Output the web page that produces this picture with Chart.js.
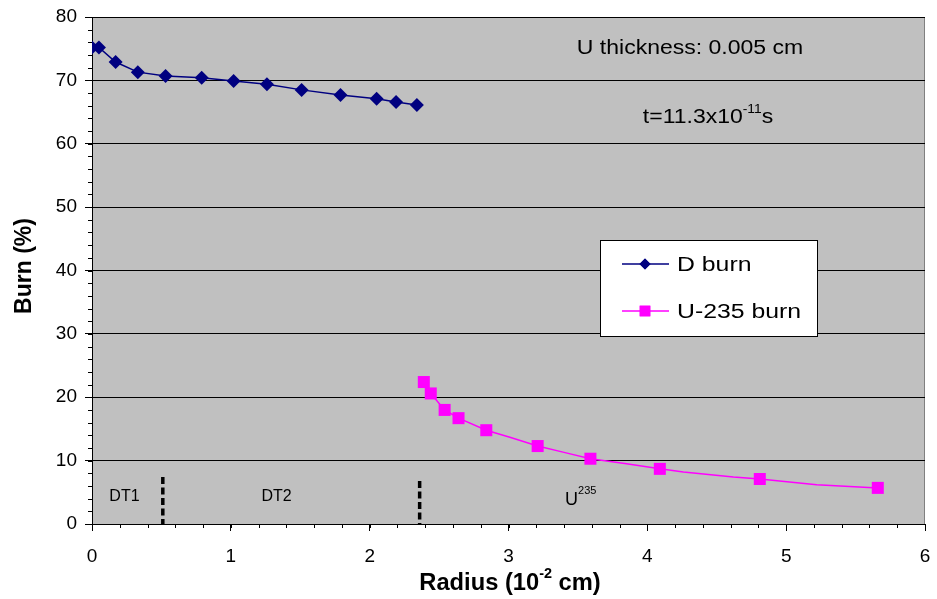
<!DOCTYPE html>
<html>
<head>
<meta charset="utf-8">
<script src="https://cdn.jsdelivr.net/npm/chart.js@4/dist/chart.umd.min.js"></script>
<style>
  html, body { margin: 0; padding: 0; background: #fff; }
  #wrap { width: 937px; height: 599px; }
</style>
</head>
<body>
<div id="wrap"><canvas id="burnChart" width="937" height="599"></canvas></div>
<script>
// ---------------------------------------------------------------------------
// Data
// ---------------------------------------------------------------------------
const dRadius = [0.0, 0.05, 0.17, 0.33, 0.53, 0.79, 1.02, 1.26, 1.51, 1.79, 2.05, 2.19, 2.34];
const dBurn   = [75.2, 75.2, 72.9, 71.3, 70.7, 70.4, 69.9, 69.4, 68.5, 67.7, 67.1, 66.6, 66.1];

// U-235 curve: marker points plus the unmarked bends of its line
const uRadius = [2.39, 2.44, 2.54, 2.64, 2.84, 3.01, 3.21, 3.40, 3.59, 3.85, 4.09, 4.26, 4.62, 4.81, 5.22, 5.66];
const uBurn   = [22.4, 20.6, 18.0, 16.7, 14.8, 13.7, 12.3, 11.3, 10.3, 9.5, 8.7, 8.2, 7.4, 7.1, 6.2, 5.7];
const uMarked = [1, 1, 1, 1, 1, 0, 1, 0, 1, 0, 1, 0, 0, 1, 0, 1];

// region boundaries (dashed markers) and labels
const boundaryX   = [0.51, 2.36];
const boundaryTop = [7.4, 6.8];
const regionLabels = [
  { text: "DT1", x: 0.234, y: 4.3 },
  { text: "DT2", x: 1.33, y: 4.3 },
];

const xTicks = [0, 1, 2, 3, 4, 5, 6];
const yTicks = [0, 10, 20, 30, 40, 50, 60, 70, 80];

const FONT = '"Liberation Sans", Arial, sans-serif';

// ---------------------------------------------------------------------------
// Helpers
// ---------------------------------------------------------------------------
function toPoints(xs, ys) {
  return xs.map((x, i) => ({ x: x, y: ys[i] }));
}

// text stretched horizontally by sx, left aligned at x
function stretchText(ctx, text, x, y, sx) {
  ctx.save();
  ctx.translate(x, y);
  ctx.scale(sx, 1);
  ctx.fillText(text, 0, 0);
  ctx.restore();
}

// draws "base" + superscript + "tail" centred at cx
function drawSuper(ctx, cx, cy, base, sup, tail, size, weight, sx, supRatio, supRise) {
  sx = sx || 1;
  const bigFont = `${weight} ${size}px ${FONT}`;
  const smallFont = `${weight} ${Math.round(size * (supRatio || 0.62))}px ${FONT}`;
  ctx.font = bigFont;
  const w1 = ctx.measureText(base).width * sx;
  const w3 = ctx.measureText(tail).width * sx;
  ctx.font = smallFont;
  const w2 = ctx.measureText(sup).width * sx;
  let x = cx - (w1 + w2 + w3) / 2;
  ctx.textAlign = "left";
  ctx.textBaseline = "middle";
  ctx.font = bigFont;
  stretchText(ctx, base, x, cy, sx);
  x += w1;
  ctx.font = smallFont;
  stretchText(ctx, sup, x, cy - size * (supRise || 0.38), sx);
  x += w2;
  ctx.font = bigFont;
  stretchText(ctx, tail, x, cy, sx);
}

// ---------------------------------------------------------------------------
// Plugins: plot background, minor ticks, annotations, legend, axis titles
// ---------------------------------------------------------------------------
const plotBackground = {
  id: "plotBackground",
  beforeDraw(chart) {
    const { ctx, chartArea: a } = chart;
    ctx.save();
    ctx.fillStyle = "#C0C0C0";
    ctx.fillRect(a.left, a.top, a.right - a.left, a.bottom - a.top);
    ctx.strokeStyle = "#808080";
    ctx.lineWidth = 1;
    ctx.strokeRect(a.left + 0.5, a.top + 0.5, a.right - a.left - 1, a.bottom - a.top);
    ctx.restore();
  }
};

const extras = {
  id: "extras",
  afterDraw(chart) {
    const { ctx, chartArea: a, scales } = chart;
    const xs = scales.x, ys = scales.y;
    ctx.save();

    // minor ticks
    ctx.strokeStyle = "#000";
    ctx.lineWidth = 1;
    ctx.beginPath();
    for (let v = 0; v <= 80; v += 2) {
      const py = Math.round(ys.getPixelForValue(v)) + 0.5;
      ctx.moveTo(a.left - 4, py);
      ctx.lineTo(a.left, py);
    }
    for (let i = 0; i <= 30; i++) {
      const px = Math.round(xs.getPixelForValue(i * 0.2)) + 0.5;
      ctx.moveTo(px, a.bottom);
      ctx.lineTo(px, a.bottom + 4);
    }
    ctx.stroke();

    // dashed region boundaries
    ctx.lineWidth = 3.5;
    ctx.setLineDash([7, 3.5]);
    boundaryX.forEach((bx, i) => {
      const px = xs.getPixelForValue(bx);
      ctx.beginPath();
      ctx.moveTo(px, ys.getPixelForValue(boundaryTop[i]));
      ctx.lineTo(px, a.bottom);
      ctx.stroke();
    });
    ctx.setLineDash([]);

    // region labels
    ctx.fillStyle = "#000";
    ctx.font = `16px ${FONT}`;
    ctx.textAlign = "center";
    ctx.textBaseline = "middle";
    regionLabels.forEach(l => {
      ctx.fillText(l.text, xs.getPixelForValue(l.x), ys.getPixelForValue(l.y));
    });
    drawSuper(ctx, xs.getPixelForValue(3.52), ys.getPixelForValue(3.8), "U", "235", "", 18, "normal", 1, 0.6, 0.5);

    // top-right notes
    ctx.font = `20px ${FONT}`;
    ctx.textBaseline = "middle";
    drawSuper(ctx, 690, 48.5, "U thickness: 0.005 cm", "", "", 20, "normal", 1.15);
    drawSuper(ctx, 708, 117, "t=11.3x10", "-11", "s", 20, "normal", 1.15);

    // legend box
    const lx = 600, ly = 240, lw = 217, lh = 96;
    ctx.fillStyle = "#fff";
    ctx.fillRect(lx, ly, lw, lh);
    ctx.strokeStyle = "#000";
    ctx.lineWidth = 1;
    ctx.strokeRect(lx + 0.5, ly + 0.5, lw, lh);
    const entries = [
      { label: "D burn", color: "#000080", style: "rectRot", r: 5.5, y: 264 },
      { label: "U-235 burn", color: "#FF00FF", style: "rect", r: 7.5, y: 311 }
    ];
    entries.forEach(e => {
      ctx.strokeStyle = e.color;
      ctx.lineWidth = 1.5;
      ctx.beginPath();
      ctx.moveTo(lx + 22, e.y);
      ctx.lineTo(lx + 69, e.y);
      ctx.stroke();
      ctx.fillStyle = e.color;
      Chart.helpers.drawPoint(ctx, { pointStyle: e.style, radius: e.r, borderWidth: 0 }, lx + 45, e.y);
      ctx.fill();
      ctx.fillStyle = "#000";
      ctx.font = `20px ${FONT}`;
      ctx.textAlign = "left";
      ctx.textBaseline = "middle";
      stretchText(ctx, e.label, lx + 77, e.y + 1, 1.24);
    });

    // axis titles
    ctx.fillStyle = "#000";
    ctx.save();
    ctx.translate(25, 266);
    ctx.rotate(-Math.PI / 2);
    ctx.font = `bold 23px ${FONT}`;
    ctx.textAlign = "center";
    ctx.textBaseline = "middle";
    ctx.fillText("Burn (%)", 0, 0);
    ctx.restore();
    drawSuper(ctx, 510, 584, "Radius (10", "-2", " cm)", 23, "bold", 1.03, 0.6, 0.42);

    ctx.restore();
  }
};

// ---------------------------------------------------------------------------
// Chart
// ---------------------------------------------------------------------------
const ctx = document.getElementById("burnChart").getContext("2d");

new Chart(ctx, {
  type: "scatter",
  data: {
    datasets: [
      {
        label: "D burn",
        data: toPoints(dRadius, dBurn),
        showLine: true,
        borderColor: "#000080",
        backgroundColor: "#000080",
        borderWidth: 1.5,
        pointStyle: "rectRot",
        pointRadius: 7,
        pointBorderWidth: 0,
        tension: 0
      },
      {
        label: "U-235 burn",
        data: toPoints(uRadius, uBurn),
        showLine: true,
        borderColor: "#FF00FF",
        backgroundColor: "#FF00FF",
        borderWidth: 1.5,
        pointStyle: "rect",
        pointRadius: uMarked.map(m => (m ? 8.5 : 0)),
        pointBorderWidth: 0,
        tension: 0
      }
    ]
  },
  options: {
    responsive: false,
    animation: false,
    events: [],
    layout: { padding: { left: 0, top: 17, right: 12, bottom: 0 } },
    plugins: {
      legend: { display: false },
      tooltip: { enabled: false },
      title: { display: false }
    },
    scales: {
      x: {
        type: "linear",
        min: 0,
        max: 6,
        afterFit(scale) {
          scale.height = 75;
          scale.paddingLeft = 0;
          scale.paddingRight = 0;
        },
        afterBuildTicks(scale) { scale.ticks = xTicks.map(v => ({ value: v })); },
        grid: {
          drawOnChartArea: false,
          color: "#000",
          tickLength: 7,
          tickColor: "#000"
        },
        border: { color: "#000", width: 1 },
        ticks: {
          color: "#000",
          font: { family: FONT, size: 19 },
          padding: 14,
          maxRotation: 0
        }
      },
      y: {
        type: "linear",
        min: 0,
        max: 80,
        afterFit(scale) {
          scale.width = 92;
          scale.paddingTop = 0;
          scale.paddingBottom = 0;
        },
        afterBuildTicks(scale) { scale.ticks = yTicks.map(v => ({ value: v })); },
        grid: {
          color: "#000",
          lineWidth: 1,
          tickLength: 7,
          tickColor: "#000"
        },
        border: { color: "#000", width: 1 },
        ticks: {
          color: "#000",
          font: { family: FONT, size: 19 },
          padding: 8
        }
      }
    }
  },
  plugins: [plotBackground, extras]
});
</script>
</body>
</html>
